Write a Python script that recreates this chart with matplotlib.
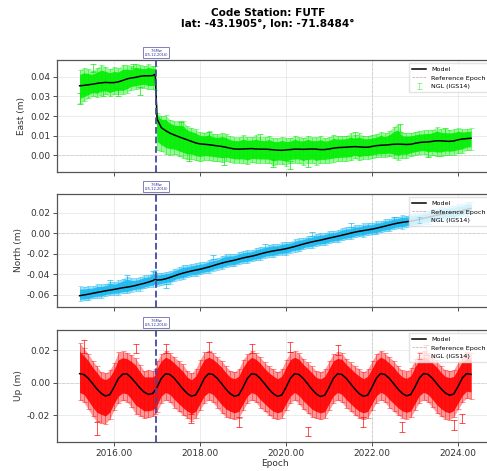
import numpy as np
import matplotlib
matplotlib.use("Agg")
import matplotlib.pyplot as plt
from matplotlib.lines import Line2D

# ---------------- data ----------------
epochs = [2015.2, 2015.3, 2015.4, 2015.5, 2015.6, 2015.7, 2015.8, 2015.9,
          2016.0, 2016.1, 2016.2, 2016.3, 2016.4, 2016.5, 2016.6, 2016.7, 2016.8, 2016.9, 2016.96,
          2017.0, 2017.1, 2017.2, 2017.3, 2017.4, 2017.5, 2017.6, 2017.7, 2017.8, 2017.9,
          2018.0, 2018.1, 2018.2, 2018.3, 2018.4, 2018.5, 2018.6, 2018.7, 2018.8, 2018.9,
          2019.0, 2019.1, 2019.2, 2019.3, 2019.4, 2019.5, 2019.6, 2019.7, 2019.8, 2019.9,
          2020.0, 2020.1, 2020.2, 2020.3, 2020.4, 2020.5, 2020.6, 2020.7, 2020.8, 2020.9,
          2021.0, 2021.1, 2021.2, 2021.3, 2021.4, 2021.5, 2021.6, 2021.7, 2021.8, 2021.9,
          2022.0, 2022.1, 2022.2, 2022.3, 2022.4, 2022.5, 2022.6, 2022.7, 2022.8, 2022.9,
          2023.0, 2023.1, 2023.2, 2023.3, 2023.4, 2023.5, 2023.6, 2023.7, 2023.8, 2023.9,
          2024.0, 2024.1, 2024.2, 2024.3]

east_model = [0.0355, 0.0357, 0.0360, 0.0363, 0.0367, 0.0370, 0.0372, 0.0371,
              0.0371, 0.0375, 0.0382, 0.0390, 0.0395, 0.0398, 0.0403, 0.0406, 0.0406, 0.0407, 0.0414,
              0.0185, 0.0140, 0.0125, 0.0112, 0.0103, 0.0094, 0.0086, 0.0078, 0.0070, 0.0062,
              0.0057, 0.0055, 0.0053, 0.0050, 0.0047, 0.0044, 0.0040, 0.0035, 0.0031, 0.0030,
              0.0031, 0.0032, 0.0033, 0.0031, 0.0030, 0.0030, 0.0029, 0.0027, 0.0025, 0.0024,
              0.0026, 0.0028, 0.0030, 0.0030, 0.0029, 0.0030, 0.0031, 0.0030, 0.0028, 0.0028,
              0.0031, 0.0035, 0.0038, 0.0039, 0.0040, 0.0042, 0.0043, 0.0042, 0.0040, 0.0040,
              0.0044, 0.0048, 0.0050, 0.0051, 0.0053, 0.0055, 0.0056, 0.0055, 0.0054, 0.0055,
              0.0060, 0.0064, 0.0066, 0.0067, 0.0070, 0.0073, 0.0073, 0.0071, 0.0070, 0.0072,
              0.0078, 0.0082, 0.0084, 0.0086]
# spread of the NGL data cloud above / below the model, in mm
east_up_mm = [8, 9, 8, 7, 8, 9, 8, 7,
              8, 7, 8, 7, 6, 7, 6, 5, 6, 5, 4,
              3, 6, 8, 7, 7, 8, 9, 7, 7, 7,
              6, 6, 7, 6, 6, 7, 7, 6, 6, 6,
              7, 6, 6, 7, 6, 6, 7, 6, 6, 7,
              6, 6, 7, 6, 6, 7, 6, 6, 7, 6,
              6, 7, 6, 6, 6, 7, 6, 7, 6, 6,
              6, 6, 7, 6, 7, 9, 10, 6, 6, 6,
              6, 6, 6, 6, 6, 7, 6, 6, 6, 6,
              6, 5, 5, 5]
east_dn_mm = [9, 8, 7, 6, 7, 6, 6, 7,
              6, 6, 7, 7, 6, 6, 6, 6, 7, 7, 8,
              16, 12, 12, 11, 10, 10, 10, 10, 9, 9,
              9, 8, 8, 8, 8, 8, 7, 7, 7, 7,
              7, 8, 7, 7, 7, 7, 7, 8, 7, 7,
              8, 7, 7, 7, 8, 7, 7, 8, 7, 7,
              7, 7, 7, 7, 7, 7, 6, 7, 6, 6,
              6, 6, 6, 6, 6, 7, 8, 7, 7, 6,
              6, 6, 6, 7, 7, 8, 8, 7, 7, 7,
              7, 7, 6, 6]
# isolated NGL points with error bars: epoch, value (m), error (m)
east_out_t = [2015.2, 2015.5, 2015.75, 2016.1, 2016.45, 2016.6, 2017.55, 2017.75, 2018.2,
              2018.55, 2019.4, 2019.7, 2020.1, 2020.5, 2021.6, 2022.65, 2023.3, 2023.7]
east_out_v = [0.029, 0.0445, 0.032, 0.0325, 0.0455, 0.033, 0.015, -0.001, 0.010,
              -0.003, 0.009, -0.004, -0.005, -0.004, 0.010, 0.014, 0.001, 0.012]
east_out_e = [0.003, 0.002, 0.002, 0.002, 0.001, 0.002, 0.002, 0.002, 0.002,
              0.002, 0.002, 0.002, 0.002, 0.002, 0.002, 0.002, 0.002, 0.002]

north_model = [-0.0607, -0.0600, -0.0593, -0.0584, -0.0576, -0.0568, -0.0560, -0.0553,
               -0.0546, -0.0538, -0.0530, -0.0524, -0.0517, -0.0508, -0.0497, -0.0487, -0.0475, -0.0461, -0.0447,
               -0.0455, -0.0452, -0.0443, -0.0430, -0.0415, -0.0400, -0.0388, -0.0377, -0.0367, -0.0358,
               -0.0350, -0.0339, -0.0328, -0.0316, -0.0303, -0.0291, -0.0280, -0.0271, -0.0262, -0.0251,
               -0.0240, -0.0231, -0.0223, -0.0213, -0.0201, -0.0190, -0.0180, -0.0172, -0.0165, -0.0158,
               -0.0150, -0.0140, -0.0129, -0.0117, -0.0105, -0.0094, -0.0084, -0.0075, -0.0067, -0.0057,
               -0.0047, -0.0038, -0.0029, -0.0019, -0.0009, 0.0001, 0.0011, 0.0019, 0.0026, 0.0033,
               0.0040, 0.0049, 0.0059, 0.0069, 0.0080, 0.0090, 0.0099, 0.0106, 0.0112, 0.0118,
               0.0126, 0.0135, 0.0145, 0.0155, 0.0165, 0.0175, 0.0183, 0.0190, 0.0196, 0.0203,
               0.0212, 0.0222, 0.0232, 0.0241]
north_up_mm = [9, 8, 8, 7, 8, 7, 7, 8,
               7, 8, 9, 10, 8, 7, 7, 8, 7, 8, 9,
               7, 7, 7, 6, 7, 7, 8, 7, 7, 7,
               7, 6, 7, 7, 6, 7, 8, 7, 6, 7,
               7, 7, 6, 7, 7, 6, 7, 7, 6, 7,
               7, 6, 7, 7, 6, 7, 6, 7, 7, 6,
               7, 6, 6, 7, 7, 6, 7, 6, 7, 7,
               6, 7, 6, 7, 6, 7, 6, 7, 6, 7,
               7, 6, 7, 6, 7, 6, 7, 6, 7, 6,
               7, 6, 7, 6]
north_dn_mm = [5, 5, 6, 5, 5, 6, 5, 5,
               5, 6, 5, 6, 5, 5, 6, 5, 5, 6, 5,
               6, 5, 5, 6, 5, 5, 6, 5, 5, 6,
               5, 5, 6, 5, 5, 6, 5, 5, 6, 5,
               5, 6, 5, 5, 6, 5, 5, 6, 5, 5,
               6, 5, 5, 6, 5, 5, 6, 5, 5, 6,
               5, 5, 6, 5, 5, 6, 5, 5, 6, 5,
               5, 6, 5, 5, 6, 5, 5, 6, 5, 5,
               6, 5, 5, 6, 5, 5, 6, 5, 5, 6,
               5, 5, 6, 5]
north_out_t = [2015.9, 2016.3, 2016.9, 2017.2, 2018.3, 2019.5, 2020.6, 2021.5, 2022.5]
north_out_v = [-0.047, -0.043, -0.039, -0.051, -0.023, -0.012, -0.001, 0.008, 0.014]
north_out_e = [0.002, 0.002, 0.002, 0.002, 0.002, 0.002, 0.002, 0.002, 0.002]

up_model = [0.0055, 0.0050, 0.0027, -0.0005, -0.0038, -0.0065, -0.0082, -0.0074,
            -0.0028, 0.0025, 0.0052, 0.0054, 0.0030, 0.0000, -0.0032, -0.0058, -0.0072, -0.0066, -0.0045,
            -0.0028, 0.0026, 0.0055, 0.0050, 0.0027, -0.0005, -0.0038, -0.0066, -0.0083, -0.0075,
            -0.0028, 0.0027, 0.0055, 0.0050, 0.0027, -0.0005, -0.0039, -0.0067, -0.0084, -0.0076,
            -0.0029, 0.0026, 0.0055, 0.0050, 0.0026, -0.0006, -0.0039, -0.0067, -0.0084, -0.0076,
            -0.0029, 0.0026, 0.0055, 0.0050, 0.0026, -0.0006, -0.0040, -0.0068, -0.0085, -0.0077,
            -0.0029, 0.0026, 0.0055, 0.0050, 0.0026, -0.0006, -0.0039, -0.0067, -0.0084, -0.0076,
            -0.0028, 0.0027, 0.0056, 0.0050, 0.0027, -0.0005, -0.0038, -0.0065, -0.0081, -0.0073,
            -0.0026, 0.0028, 0.0056, 0.0051, 0.0028, -0.0004, -0.0036, -0.0062, -0.0077, -0.0070,
            -0.0024, 0.0029, 0.0056, 0.0051]
up_up_mm = [19, 16, 15, 14, 14, 13, 14, 15,
            15, 16, 14, 13, 14, 15, 14, 13, 15, 14, 13,
            16, 15, 14, 13, 13, 14, 15, 14, 14, 16,
            17, 16, 14, 13, 13, 14, 14, 14, 15, 16,
            17, 15, 14, 13, 13, 13, 14, 15, 15, 16,
            17, 16, 14, 13, 12, 13, 14, 14, 15, 16,
            16, 15, 13, 13, 12, 13, 14, 15, 15, 16,
            16, 15, 14, 13, 13, 14, 14, 14, 15, 16,
            17, 16, 14, 13, 13, 14, 14, 14, 15, 15,
            15, 14, 13, 13]
up_dn_mm = [16, 17, 19, 20, 20, 18, 17, 15,
            14, 15, 16, 17, 18, 19, 17, 16, 14, 14, 15,
            15, 15, 16, 17, 18, 17, 16, 15, 15, 14,
            14, 15, 16, 17, 18, 18, 17, 15, 14, 14,
            14, 15, 16, 17, 18, 17, 16, 15, 14, 14,
            14, 15, 16, 18, 19, 18, 17, 15, 14, 14,
            14, 15, 16, 17, 18, 17, 16, 15, 14, 14,
            14, 15, 16, 17, 18, 17, 16, 15, 14, 14,
            14, 15, 16, 17, 18, 18, 17, 16, 15, 14,
            14, 15, 15, 15]
up_out_t = [2015.3, 2015.6, 2016.5, 2017.2, 2017.8, 2018.2, 2018.9, 2019.2, 2020.1,
            2020.5, 2021.2, 2021.8, 2022.7, 2023.25, 2023.9, 2024.1]
up_out_v = [0.022, -0.028, 0.021, 0.021, -0.022, 0.022, -0.024, 0.021, 0.022,
            -0.030, 0.020, -0.024, -0.027, 0.020, -0.026, -0.022]
up_out_e = [0.004, 0.004, 0.003, 0.003, 0.003, 0.003, 0.003, 0.003, 0.003,
            0.003, 0.003, 0.003, 0.003, 0.003, 0.003, 0.003]

quake_epoch = 2016.98
quake_label = "7.6Mw\n(25-12-2016)"
ref_epoch = 2022.0
title_text = "Code Station: FUTF\nlat: -43.1905°, lon: -71.8484°"

panels = [
    ("East (m)", east_model, east_up_mm, east_dn_mm, (east_out_t, east_out_v, east_out_e),
     "#00ee00", (-0.0087, 0.0487), [0.00, 0.01, 0.02, 0.03, 0.04]),
    ("North (m)", north_model, north_up_mm, north_dn_mm, (north_out_t, north_out_v, north_out_e),
     "#1ab8f0", (-0.0717, 0.0382), [-0.06, -0.04, -0.02, 0.00, 0.02]),
    ("Up (m)", up_model, up_up_mm, up_dn_mm, (up_out_t, up_out_v, up_out_e),
     "#ff0000", (-0.0364, 0.0323), [-0.02, 0.00, 0.02]),
]
xticks = [2016, 2018, 2020, 2022, 2024]

# ---------------- figure ----------------
W, H = 487, 471
fig = plt.figure(figsize=(W / 100, H / 100), dpi=100)
rects = [(60, 172), (194, 307), (330, 442)]
x0, x1 = 57, 492

t = np.array(epochs)
for (ylabel, model, upmm, dnmm, outl, col, ylim, yt), (top, bot) in zip(panels, rects):
    ax = fig.add_axes([x0 / W, 1 - bot / H, (x1 - x0) / W, (bot - top) / H])
    m = np.array(model)
    up = np.array(upmm) / 1000.0
    dn = np.array(dnmm) / 1000.0
    ax.fill_between(t, m - dn, m + up, color=col, alpha=0.4, lw=0, zorder=2)
    ax.fill_between(t, m - 0.72 * dn, m + 0.72 * up, color=col, alpha=0.9, lw=0, zorder=2)
    eb = ax.errorbar(t, m, yerr=[dn, up], fmt='none', ecolor=col, elinewidth=0.5,
                     capsize=1.8, capthick=0.5, alpha=0.6, zorder=3, label="NGL (IGS14)")
    ax.errorbar(outl[0], outl[1], yerr=outl[2], fmt='none', ecolor=col, elinewidth=0.6,
                capsize=2.0, capthick=0.6, alpha=0.8, zorder=3)
    ln, = ax.plot(t, m, color='black', lw=1.1, zorder=5, label="Model")
    ax.axvline(quake_epoch, color='#4848a0', ls='--', lw=1.3, zorder=6)
    ax.axvline(ref_epoch, color='grey', ls='--', lw=0.6, alpha=0.6, zorder=1)
    ax.axhline(0, color='grey', ls='--', lw=0.6, alpha=0.5, zorder=1)
    ax.annotate(quake_label, xy=(quake_epoch, 1.0), xycoords=('data', 'axes fraction'),
                xytext=(0, 2.5), textcoords='offset points', ha='center', va='bottom',
                fontsize=2.6, color='#3030a0', linespacing=1.0,
                bbox=dict(boxstyle='square,pad=0.35', fc='white', ec='#6a6ab8', lw=0.6),
                annotation_clip=False)
    ax.set_xlim(2014.674, 2024.79)
    ax.set_ylim(*ylim)
    ax.set_yticks(yt)
    ax.set_yticklabels(["%.2f" % v if v != 0 else "0.00" for v in yt])
    ax.set_xticks(xticks)
    ax.grid(True, color='#dddddd', lw=0.5, alpha=0.8, zorder=0)
    ax.tick_params(labelsize=6.5, length=3, width=0.6, colors='#333333', pad=2)
    for s in ax.spines.values():
        s.set_color('#555555')
        s.set_linewidth(0.9)
    ax.set_ylabel(ylabel, fontsize=6.5, color='#333333', labelpad=3)
    ref_h = Line2D([], [], color='#c8a0a8', ls='--', lw=0.5)
    ax.legend([ln, ref_h, eb], ["Model", "Reference Epoch", "NGL (IGS14)"], loc='upper right',
              fontsize=4.6, framealpha=0.8, edgecolor='#dddddd', fancybox=False,
              handlelength=2.2, borderpad=0.5, labelspacing=0.5)
    if ylabel != "Up (m)":
        ax.set_xticklabels([])
    else:
        ax.set_xticklabels(["%.2f" % v for v in xticks])
        ax.set_xlabel("Epoch", fontsize=6.5, color='#333333', labelpad=1)

fig.text(268 / W, 1 - 8 / H, title_text, ha='center', va='top', fontsize=7.6,
         fontweight='bold', linespacing=1.15)

fig.savefig("out.png", dpi=100)
